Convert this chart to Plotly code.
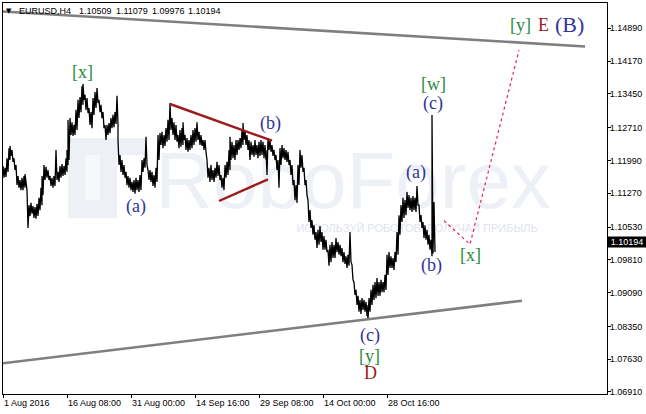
import plotly.graph_objects as go

# ---------------- data (EURUSD H4) ----------------
bar_index = [0,2,4,6,7,9,11,13,15,17,19,21,22,24,26,28,30,32,34,36,38,39,41,43,45,47,49,51,53,55,57,59,61,63,64,65,
             67,69,71,73,75,77,79,80,82,84,86,88,90,92,94,96,98,100,102,104,106,108,110,112,114,115,117,119,121,123,125,127,129,131,133,135,137,139,141,143,145,
             147,149,151,153,155,157,159,161,163,165,167,169,171,173,175,177,179,180,182,184,186,188,190,192,194,196,198,200,202,204,206,208,210,212,214,216,218,220,222,224,226,227,229,231,233,235,237,239,240,242,244,246,248,250,252,254,256,258,260,262,263,265,267,269,271,273,275,277,279,281,283,285,287,289,291,293,295,
             297,299,301,303,305,307,309,311,313,315,317,319,321,323,325,327,329,331,333,335,337,339,341,343,345,347,349,351,353,355,357,359,361,363,364,366,368,370,372,374,376,378,380,382,384,386,388,390,392,394,396,398,400,402,404,406,408,410,412,414,416,418,420,422,424,426,428,429,431]

bar_high = [1.1187,1.1183,1.1204,1.1226,1.1231,1.1222,1.1204,1.1189,1.1165,1.1156,1.1161,1.1165,1.1169,1.1134,1.1101,1.1106,1.1099,1.1097,1.1104,1.1117,
            1.1139,1.1165,1.1189,1.1185,1.1178,1.1165,1.1161,1.1165,1.1222,1.1174,1.1187,1.1191,1.1187,1.1204,1.1222,1.1288,
            1.1292,1.1283,1.1277,1.1310,1.1332,1.1338,1.1362,1.1367,1.1343,1.1336,1.1314,1.1305,1.1336,1.1349,1.1358,1.1332,1.1321,1.1305,1.1277,1.1277,
            1.1281,1.1292,1.1299,1.1305,1.1341,1.1244,1.1211,1.1200,1.1189,1.1174,1.1165,1.1161,1.1152,1.1156,1.1161,1.1156,1.1167,1.1200,1.1204,1.1251,1.1178,
            1.1178,1.1174,1.1167,1.1183,1.1255,1.1259,1.1262,1.1255,1.1270,1.1288,1.1325,1.1292,1.1283,1.1277,1.1255,1.1266,1.1270,1.1283,1.1255,1.1248,
            1.1244,1.1255,1.1266,1.1270,1.1283,1.1262,1.1255,1.1244,1.1244,1.1200,1.1183,1.1189,1.1178,1.1183,1.1196,1.1189,1.1167,1.1161,1.1189,1.1196,
            1.1222,1.1251,1.1240,1.1233,1.1244,1.1244,1.1248,1.1266,1.1281,1.1266,1.1255,1.1244,1.1240,1.1233,1.1244,1.1233,1.1240,1.1244,1.1240,1.1233,
            1.1222,1.1248,1.1244,1.1233,1.1222,1.1211,1.1200,1.1226,1.1233,1.1226,1.1222,1.1218,1.1200,1.1189,1.1156,1.1145,1.1189,
            1.1222,1.1211,1.1183,1.1156,1.1112,1.1090,1.1068,1.1057,1.1042,1.1047,1.1055,1.1042,1.1033,1.1025,1.1003,1.1014,1.1020,1.1014,1.1029,1.1020,
            1.1014,1.1007,1.0998,1.0989,1.0992,1.1042,1.0970,1.0932,1.0915,1.0902,1.0893,1.0897,1.0893,1.0889,1.0882,1.0897,1.0915,1.0926,1.0932,1.0941,
            1.0932,1.0937,1.0932,1.0948,1.0992,1.0998,1.0989,1.0985,1.0998,1.1042,1.1079,1.1101,1.1117,1.1112,1.1130,1.1123,1.1117,1.1121,1.1117,1.1143,
            1.1101,1.1079,1.1064,1.1057,1.1047,1.1036,1.1025,1.1299,1.1108]

bar_low = [1.1161,1.1163,1.1174,1.1200,1.1209,1.1196,1.1178,1.1145,1.1139,1.1134,1.1134,1.1139,1.1143,1.1051,1.1077,1.1082,1.1073,1.1071,1.1077,1.1090,
           1.1101,1.1123,1.1156,1.1161,1.1156,1.1143,1.1139,1.1143,1.1156,1.1152,1.1161,1.1165,1.1167,1.1174,1.1189,1.1200,
           1.1255,1.1253,1.1255,1.1266,1.1292,1.1305,1.1321,1.1332,1.1310,1.1303,1.1277,1.1270,1.1299,1.1314,1.1325,1.1305,1.1292,1.1270,1.1244,1.1255,
           1.1259,1.1270,1.1272,1.1279,1.1277,1.1189,1.1174,1.1167,1.1161,1.1145,1.1139,1.1134,1.1130,1.1126,1.1134,1.1130,1.1134,1.1174,1.1183,1.1189,1.1156,
           1.1152,1.1143,1.1139,1.1152,1.1200,1.1233,1.1226,1.1231,1.1240,1.1244,1.1266,1.1255,1.1244,1.1240,1.1226,1.1229,1.1233,1.1244,1.1222,1.1218,
           1.1222,1.1226,1.1233,1.1240,1.1244,1.1233,1.1231,1.1222,1.1218,1.1161,1.1152,1.1156,1.1152,1.1161,1.1165,1.1156,1.1139,1.1134,1.1161,1.1167,
           1.1178,1.1200,1.1204,1.1200,1.1211,1.1222,1.1226,1.1233,1.1244,1.1233,1.1222,1.1200,1.1211,1.1207,1.1211,1.1204,1.1209,1.1211,1.1204,1.1200,
           1.1167,1.1222,1.1218,1.1209,1.1200,1.1178,1.1139,1.1189,1.1204,1.1200,1.1196,1.1189,1.1167,1.1145,1.1112,1.1106,1.1145,
           1.1183,1.1174,1.1145,1.1123,1.1064,1.1051,1.1036,1.1025,1.1007,1.1014,1.1020,1.1003,1.1003,1.0998,1.0968,1.0976,1.0985,1.0985,1.0998,1.0992,
           1.0989,1.0976,1.0972,1.0963,1.0968,1.0976,1.0937,1.0904,1.0882,1.0867,1.0862,1.0871,1.0867,1.0858,1.0849,1.0867,1.0882,1.0893,1.0897,1.0902,
           1.0902,1.0910,1.0910,1.0915,1.0948,1.0963,1.0963,1.0959,1.0976,1.0992,1.1036,1.1064,1.1073,1.1079,1.1095,1.1090,1.1086,1.1090,1.1086,1.1101,
           1.1064,1.1051,1.1029,1.1025,1.1014,1.1003,1.0989,1.0995,1.0998]

symbol_label = "EURUSD,H4"
last_bar_ohlc = ["1.10509", "1.11079", "1.09976", "1.10194"]
last_close = 1.10194

ytick_values = [1.14890, 1.14170, 1.13450, 1.12710, 1.11990, 1.11270, 1.10530,
                1.09810, 1.09090, 1.08350, 1.07630, 1.06910]
xtick_bars = [0, 64, 128, 192, 256, 320, 384]
xtick_labels = ["1 Aug 2016", "16 Aug 08:00", "31 Aug 00:00", "14 Sep 16:00",
                "29 Sep 08:00", "14 Oct 00:00", "28 Oct 16:00"]

channel_upper_bars = [0, 582]
channel_upper_prices = [1.15259, 1.14491]
channel_lower_bars = [0, 519]
channel_lower_prices = [1.07540, 1.08913]
triangle_top_bars = [167, 269]
triangle_top_prices = [1.13229, 1.12424]
triangle_bottom_bars = [216, 265]
triangle_bottom_prices = [1.11101, 1.11577]
forecast_bars = [441, 467, 516]
forecast_prices = [1.10669, 1.10151, 1.14414]

# wave labels: text, bar, price, kind
wave_labels = [
    ("[x]", 79.5, 1.1393, "minor"),
    ("(a)", 133, 1.1099, "sub"),
    ("(b)", 267, 1.1280, "sub"),
    ("(a)", 412.5, 1.1172, "sub"),
    ("(b)", 428, 1.0968, "sub"),
    ("[w]", 430.5, 1.1366, "minor"),
    ("(c)", 430, 1.1324, "sub"),
    ("[y]", 517.5, 1.1496, "minor"),
    ("E", 540, 1.1496, "major"),
    ("(B)", 566.5, 1.1498, "big"),
    ("[x]", 467.5, 1.0991, "minor"),
    ("(c)", 366.5, 1.0815, "sub"),
    ("[y]", 366.5, 1.0771, "minor"),
    ("D", 367, 1.0732, "major"),
]

# ---------------- styling ----------------
W, H = 646, 414
ML, MR, MT, MB = 3, 39, 3, 20
XR = [0, 604]
YR = [1.06866, 1.15445]
label_style = {
    "minor": dict(color="#2b8a3e", size=18),
    "sub": dict(color="#2f3399", size=18),
    "major": dict(color="#9b1c1c", size=18),
    "big": dict(color="#2f3399", size=22),
}
WM = "#edf0f5"
TXT = dict(family="Liberation Sans, Arial", size=9, color="#000000")
HEADER_X = [18, 78, 115, 151, 187]   # pixel x of the header pieces

def px_x(p):
    return (p - ML) / (W - ML - MR)

def px_y(p):
    return (H - MB - p) / (H - MT - MB)

fig = go.Figure()

# watermark (drawn first so it stays behind)
fig.add_trace(go.Scatter(x=[350], y=[1.1139], mode="text", text=["RoboForex"],
                         textfont=dict(family="Liberation Sans, Arial", size=80, color=WM),
                         hoverinfo="skip", showlegend=False))
fig.add_trace(go.Scatter(x=[414], y=[1.1047], mode="text",
                         text=["ИСПОЛЬЗУЙ РОБОТОВ  ПОЛУЧАЙ ПРИБЫЛЬ"],
                         textfont=dict(family="Liberation Sans", size=11, color="#e0e4eb"),
                         hoverinfo="skip", showlegend=False))

# price bars as a dense high/low zigzag
zx, zy = [], []
for b, h, l in zip(bar_index, bar_high, bar_low):
    zx += [b, b + 1]
    zy += [h, l]
fig.add_trace(go.Scatter(x=zx, y=zy, mode="lines", line=dict(color="#000000", width=1.3),
                         hoverinfo="skip", showlegend=False))

# channel lines
for bx, py in [(channel_upper_bars, channel_upper_prices), (channel_lower_bars, channel_lower_prices)]:
    fig.add_trace(go.Scatter(x=bx, y=py, mode="lines", line=dict(color="#7f7f7f", width=2.6),
                             hoverinfo="skip", showlegend=False))
# triangle
for bx, py in [(triangle_top_bars, triangle_top_prices), (triangle_bottom_bars, triangle_bottom_prices)]:
    fig.add_trace(go.Scatter(x=bx, y=py, mode="lines", line=dict(color="#9b1c1c", width=2.4),
                             hoverinfo="skip", showlegend=False))
# forecast
fig.add_trace(go.Scatter(x=forecast_bars, y=forecast_prices, mode="lines",
                         line=dict(color="#e8245a", width=1.2, dash="3px,3px"),
                         hoverinfo="skip", showlegend=False))

annotations = []
for text, b, p, kind in wave_labels:
    st = label_style[kind]
    annotations.append(dict(x=b, y=p, xref="x", yref="y", text=text, showarrow=False,
                            xanchor="center", yanchor="middle",
                            font=dict(family="Liberation Serif, Times New Roman, serif",
                                      size=st["size"], color=st["color"])))

# header
annotations.append(dict(x=px_x(9), y=px_y(11), xref="paper", yref="paper", text="▼",
                        showarrow=False, xanchor="center", yanchor="middle",
                        font=dict(family="DejaVu Sans", size=7, color="#000000")))
for hx, piece in zip(HEADER_X, [symbol_label] + last_bar_ohlc):
    annotations.append(dict(x=px_x(hx), y=px_y(11), xref="paper", yref="paper", text=piece,
                            showarrow=False, xanchor="left", yanchor="middle", borderpad=0,
                            font=TXT))
# current price marker
annotations.append(dict(x=1, y=last_close, xref="paper", yref="y", text=f"{last_close:.5f}",
                        showarrow=False, xanchor="left", yanchor="middle", xshift=0,
                        width=38, height=10, align="center", bgcolor="#000000", borderpad=0,
                        font=dict(family="Liberation Sans, Arial", size=9, color="#ffffff")))

shapes = [
    # stylised logo mark of the watermark
    dict(type="rect", xref="paper", yref="paper", x0=px_x(68), x1=px_x(117), y0=px_y(218), y1=px_y(138),
         fillcolor=WM, line=dict(width=0), layer="below"),
    dict(type="rect", xref="paper", yref="paper", x0=px_x(117), x1=px_x(147), y0=px_y(155), y1=px_y(138),
         fillcolor=WM, line=dict(width=0), layer="below"),
    dict(type="rect", xref="paper", yref="paper", x0=px_x(85), x1=px_x(100), y0=px_y(200), y1=px_y(155),
         fillcolor="#f7f8fb", line=dict(width=0), layer="below"),
]

fig.update_layout(
    width=W, height=H,
    margin=dict(l=ML, r=MR, t=MT, b=MB, pad=0),
    paper_bgcolor="#ffffff", plot_bgcolor="#ffffff",
    showlegend=False,
    annotations=annotations,
    shapes=shapes,
    xaxis=dict(range=XR, showgrid=False, zeroline=False, showline=True, mirror=True,
               linecolor="#000000", linewidth=1, ticks="outside", ticklen=3, tickcolor="#000000",
               tickvals=xtick_bars, ticktext=xtick_labels, ticklabelposition="outside right",
               tickfont=TXT),
    yaxis=dict(range=YR, side="right", showgrid=False, zeroline=False, showline=True, mirror=True,
               linecolor="#000000", linewidth=1, ticks="outside", ticklen=3, tickcolor="#000000",
               tickvals=ytick_values, ticktext=[f"{v:.5f}" for v in ytick_values],
               ticklabelstandoff=-3, tickfont=TXT),
)

fig.write_html("out.html", config={"displayModeBar": False},
               post_script="document.body.style.margin='0';")
